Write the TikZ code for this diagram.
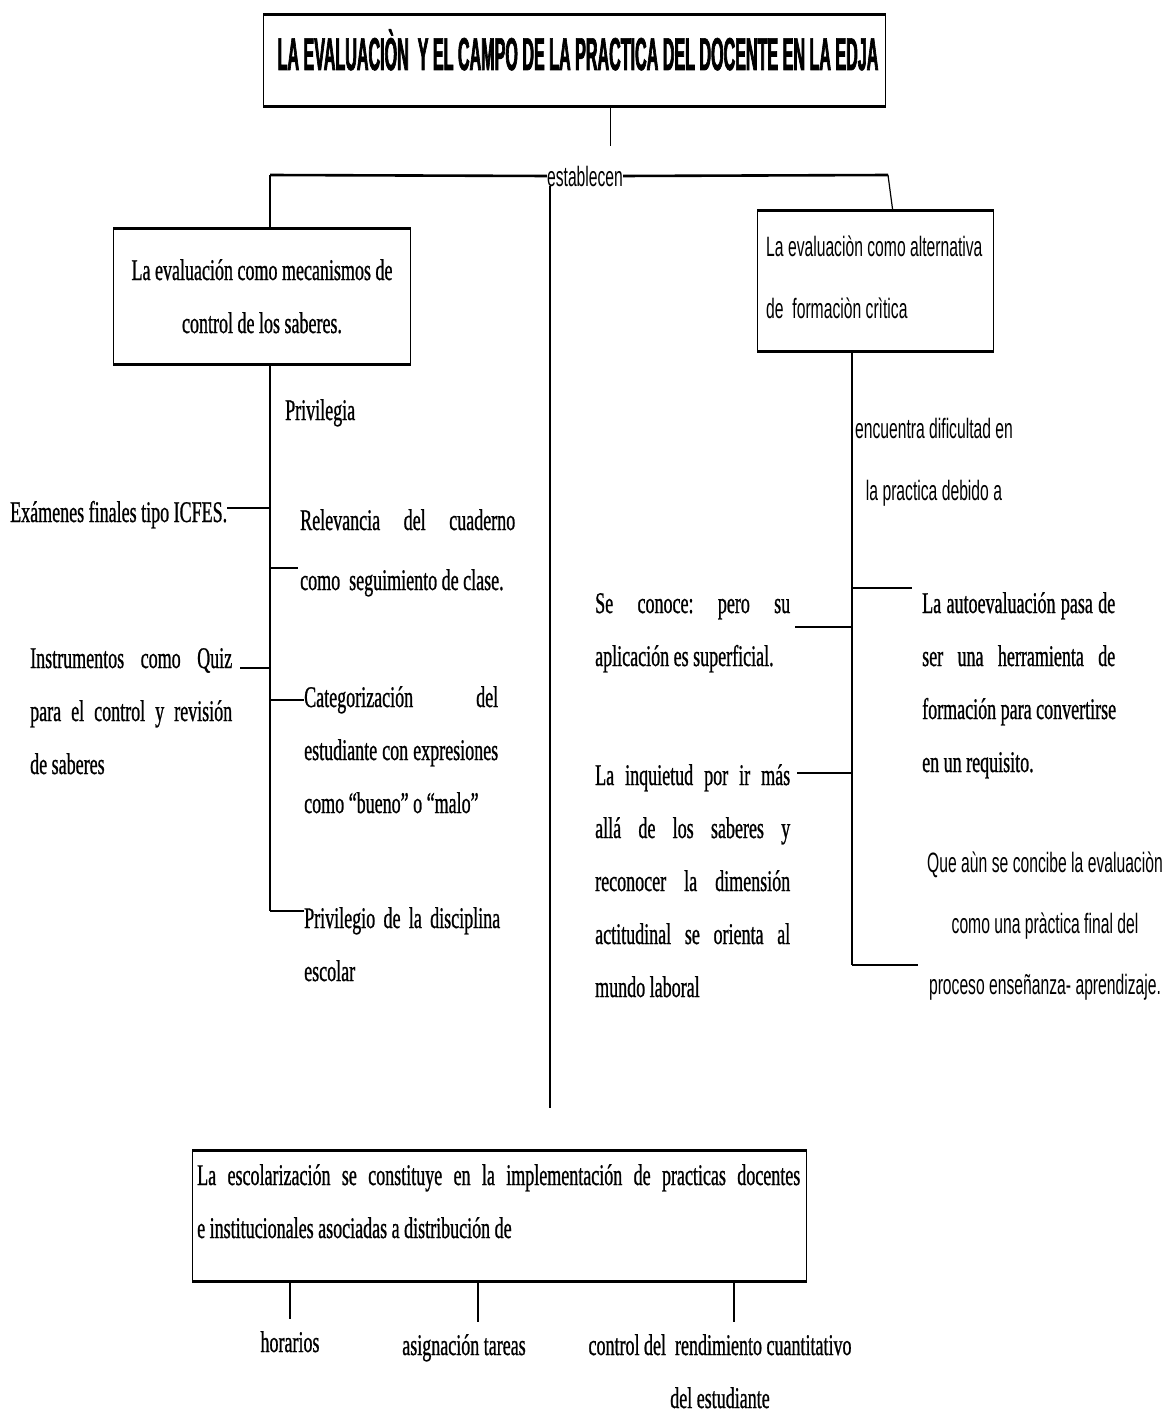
\documentclass[tikz,border=0pt]{standalone}
\usepackage{fontspec}
\setmainfont{Liberation Serif}
\newfontfamily\serifc{Liberation Serif}[FakeStretch=0.6,FakeBold=0.8]
\newfontfamily\sansc{Liberation Sans}[FakeStretch=0.56]
\newfontfamily\titlefont{Liberation Sans}[FakeStretch=0.35,FakeBold=1.4]
\usetikzlibrary{calc}
\newcommand{\justline}[2]{\makebox[#1][s]{\spaceskip=4.5pt plus 1fil\xspaceskip=4.5pt plus 1fil\relax#2}}
\newcommand{\sersp}{\spaceskip=4.5pt\xspaceskip=4.5pt\relax}
\newcommand{\sansp}{\spaceskip=4.4pt\xspaceskip=4.4pt\relax}
\begin{document}
\begin{tikzpicture}[x=1pt,y=-1pt,
  box/.style={draw, line width=1.3pt, inner sep=0pt, anchor=north west},
  edgeline/.style={line width=3pt},
  conn/.style={line width=1.2pt},
  stub/.style={line width=2.6pt},
  ser/.style={font=\serifc\fontsize{30}{53}\selectfont, inner sep=0pt, align=left, anchor=base west},
  san/.style={font=\sansc\fontsize{28}{62}\selectfont, inner sep=0pt}]
\useasboundingbox (0,0) rectangle (1168,1413);
\fill[white] (0,0) rectangle (1168,1413);

% title
\node[box, minimum width=622pt, minimum height=90pt] (title) at (263,15) {};
\draw[edgeline] (title.north west) -- (title.north east);
\draw[edgeline] (title.south west) -- (title.south east);
\node[anchor=base, inner sep=0pt, font=\titlefont\bfseries\fontsize{46}{46}\selectfont] (titletext) at (578,70) {LA EVALUACIÒN\ \ Y EL CAMPO DE LA PRACTICA DEL DOCENTE EN LA EDJA};

% establecen
\node[san, anchor=base] (est) at (585,186) {establecen};
\draw[conn] ([xshift=36pt]title.south) -- ++(0,40);

% boxes
\node[box, minimum width=297pt, minimum height=135pt] (lbox) at (113,228) {};
\draw[edgeline] (lbox.north west) -- (lbox.north east);
\draw[edgeline] (lbox.south west) -- (lbox.south east);
\node[ser, anchor=base, align=center, text width=290pt] (ltext) at (262,280) {\sersp La evaluación como mecanismos de\\control de los saberes.};

\node[box, minimum width=236pt, minimum height=140pt] (rbox) at (757,210) {};
\draw[edgeline] (rbox.north west) -- (rbox.north east);
\draw[edgeline] (rbox.south west) -- (rbox.south east);
\node[san, anchor=base west, align=left, text width=300pt] (rtext) at (766,256) {\sansp La evaluaciòn como alternativa\\de\ \ formaciòn crìtica};

\node[box, minimum width=614pt, minimum height=130pt] (esc) at (192,1150) {};
\draw[edgeline] (esc.north west) -- (esc.north east);
\draw[edgeline] (esc.south west) -- (esc.south east);
\node[ser, text width=603pt] (esctext) at (197,1185) {\sersp\justline{603pt}{La escolarización se constituye en la implementación de practicas docentes}\\e institucionales asociadas a distribución de};

% top connectors
\coordinate (lcorner) at (270,175);
\coordinate (rcorner) at (888,175);
\coordinate (cend) at (550,1108);
\draw[stub] (est.west) -- (lcorner);
\draw[conn] (lcorner) -- (lcorner |- lbox.north);
\draw[stub] (est.east) -- (rcorner);
\draw[conn] (rcorner) -- ([xshift=17pt]rbox.north);
\draw[conn] (est.south -| cend) -- (cend);

% left branch
\node[ser] (priv) at (285,420) {Privilegia};
\node[ser] (exam) at (10,522) {Exámenes finales tipo ICFES.};
\node[ser, text width=260pt, font=\serifc\fontsize{30}{60}\selectfont] (relev) at (300,530) {\sersp\justline{215pt}{Relevancia del cuaderno}\\como\ \ seguimiento de clase.};
\node[ser, text width=202pt] (instr) at (30,668) {\sersp\justline{202pt}{Instrumentos como Quiz}\\\justline{202pt}{para el control y revisión}\\de saberes};
\node[ser, text width=194pt] (categ) at (304,707) {\sersp\justline{194pt}{Categorización del}\\\justline{194pt}{estudiante con expresiones}\\como “bueno” o “malo”};
\node[ser, text width=196pt] (privil) at (304,928) {\sersp\justline{196pt}{Privilegio de la disciplina}\\escolar};

\coordinate (lbot) at (270,911);
\draw[conn] (lbox.south -| lbot) -- (lbot);
\coordinate (bl1) at (270,508);
\coordinate (bl2) at (270,568);
\coordinate (bl3) at (270,668);
\coordinate (bl4) at (270,700);
\draw[stub] (bl1) -- (bl1 -| exam.east);
\draw[stub] (bl2) -- ([xshift=-2pt]bl2 -| relev.west);
\draw[stub] (bl3) -- ([xshift=8pt]bl3 -| instr.east);
\draw[stub] (bl4) -- (bl4 -| categ.west);
\draw[stub] (lbot) -- (lbot -| privil.west);

% right branch
\node[san, anchor=base, align=center, text width=240pt] (encu) at (934,438) {\sansp encuentra dificultad en\\la practica debido a};
\node[ser, text width=195pt] (secon) at (595,613) {\sersp\justline{195pt}{Se conoce: pero su}\\aplicación es superficial.};
\node[ser, text width=193pt] (autoev) at (922,613) {\sersp\justline{193pt}{La autoevaluación pasa de}\\\justline{193pt}{ser una herramienta de}\\\justline{193pt}{formación para convertirse}\\en un requisito.};
\node[ser, text width=195pt] (inq) at (595,785) {\sersp\justline{195pt}{La inquietud por ir más}\\\justline{195pt}{allá de los saberes y}\\\justline{195pt}{reconocer la dimensión}\\\justline{195pt}{actitudinal se orienta al}\\mundo laboral};
\node[san, anchor=base, align=center, text width=300pt, font=\sansc\fontsize{28}{61}\selectfont] (queaun) at (1045,872) {\sansp Que aùn se concibe la evaluaciòn\\como una pràctica final del\\proceso enseñanza- aprendizaje.};

\coordinate (rbot) at (852,965);
\draw[conn] (rbox.south -| rbot) -- (rbot);
\coordinate (br1) at (852,588);
\coordinate (br2) at (852,627);
\coordinate (br3) at (852,773);
\coordinate (br4) at (918,965);
\draw[stub] (br1) -- ([xshift=-10pt]br1 -| autoev.west);
\draw[stub] (br2) -- ([xshift=5pt]br2 -| secon.east);
\draw[stub] (br3) -- ([xshift=7pt]br3 -| inq.east);
\draw[stub] (rbot) -- (br4);

% bottom labels
\node[ser, anchor=base] (hor) at (290,1352) {horarios};
\node[ser, anchor=base] (asig) at (464,1355) {asignación tareas};
\node[ser, anchor=base, align=center, text width=300pt] (ctrl) at (720,1355) {\sersp control del\ \ rendimiento cuantitativo\\del estudiante};
\draw[conn] (esc.south -| hor.north) -- ([yshift=12pt]hor.north);
\draw[conn] ([xshift=14pt]esc.south -| asig.north) -- ([xshift=14pt,yshift=12pt]asig.north);
\draw[conn] ([xshift=14pt]esc.south -| ctrl.north) -- ([xshift=14pt,yshift=12pt]ctrl.north);
\end{tikzpicture}
\end{document}
